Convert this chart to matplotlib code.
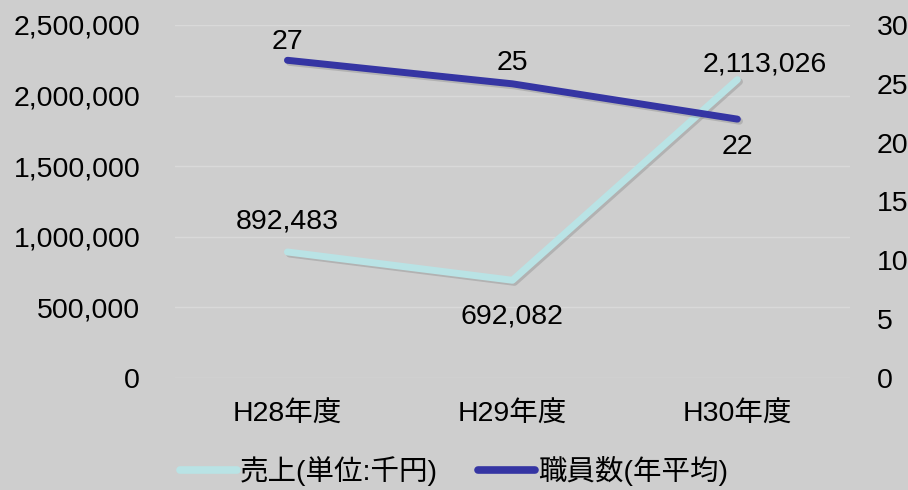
import matplotlib.pyplot as plt
import matplotlib.patheffects as pe
from matplotlib.lines import Line2D
from matplotlib.ticker import FuncFormatter

plt.rcParams['font.family'] = ['Liberation Sans', 'Noto Sans CJK JP']

categories = ['H28年度', 'H29年度', 'H30年度']
sales = [892483, 692082, 2113026]
staff = [27, 25, 22]
sales_label = '売上(単位:千円)'
staff_label = '職員数(年平均)'

bg = '#cecece'
c_sales = '#b9e3e5'
c_staff = '#3535a3'
fs = 20.5

fig = plt.figure(figsize=(9.08, 4.9), dpi=100, facecolor=bg)
ax = fig.add_axes([0.1927, 0.2286, 0.7433, 0.7204], facecolor=bg)
ax2 = ax.twinx()

x = range(len(categories))
shadow = [pe.SimpleLineShadow(offset=(1.5, -1.5), shadow_color='#888888', alpha=0.4), pe.Normal()]
ax.plot(x, sales, color=c_sales, lw=5, solid_capstyle='round', path_effects=shadow)
ax2.plot(x, staff, color=c_staff, lw=5, solid_capstyle='round', path_effects=shadow)

ax.set_xlim(-0.5, 2.5)
ax.set_ylim(0, 2500000)
ax2.set_ylim(0, 30)
ax.set_yticks(range(0, 2500001, 500000))
ax2.set_yticks(range(0, 31, 5))
ax.yaxis.set_major_formatter(FuncFormatter(lambda v, p: f'{int(v):,}'))
ax.set_xticks(list(x))
ax.set_xticklabels(categories)
ax.grid(axis='y', color='#d9d9d9', lw=1)
ax.set_axisbelow(True)

for a in (ax, ax2):
    for s in a.spines.values():
        s.set_visible(False)
    a.tick_params(length=0, labelsize=fs, colors='black')
ax.tick_params(axis='y', pad=25)
ax.tick_params(axis='x', pad=17)
ax2.tick_params(axis='y', pad=19.5)

# data labels
sales_off = [(0, 30), (0, -36), (27, 15)]
staff_off = [(0, 18), (0, 21), (0, -28)]
for i in x:
    ax.annotate(f'{sales[i]:,}', (i, sales[i]), xytext=sales_off[i], textcoords='offset pixels',
                ha='center', va='center', fontsize=fs)
    ax2.annotate(f'{staff[i]}', (i, staff[i]), xytext=staff_off[i], textcoords='offset pixels',
                 ha='center', va='center', fontsize=fs)

handles = [Line2D([], [], color=c_sales, lw=5.5, solid_capstyle='round'),
           Line2D([], [], color=c_staff, lw=5.5, solid_capstyle='round')]
fig.legend(handles, [sales_label, staff_label], loc='lower center', bbox_to_anchor=(0.5, -0.045),
           ncol=2, frameon=False, fontsize=fs, handlelength=2.0, handletextpad=0.1, columnspacing=1.4)

fig.savefig('out.png', dpi=100, facecolor=bg)
